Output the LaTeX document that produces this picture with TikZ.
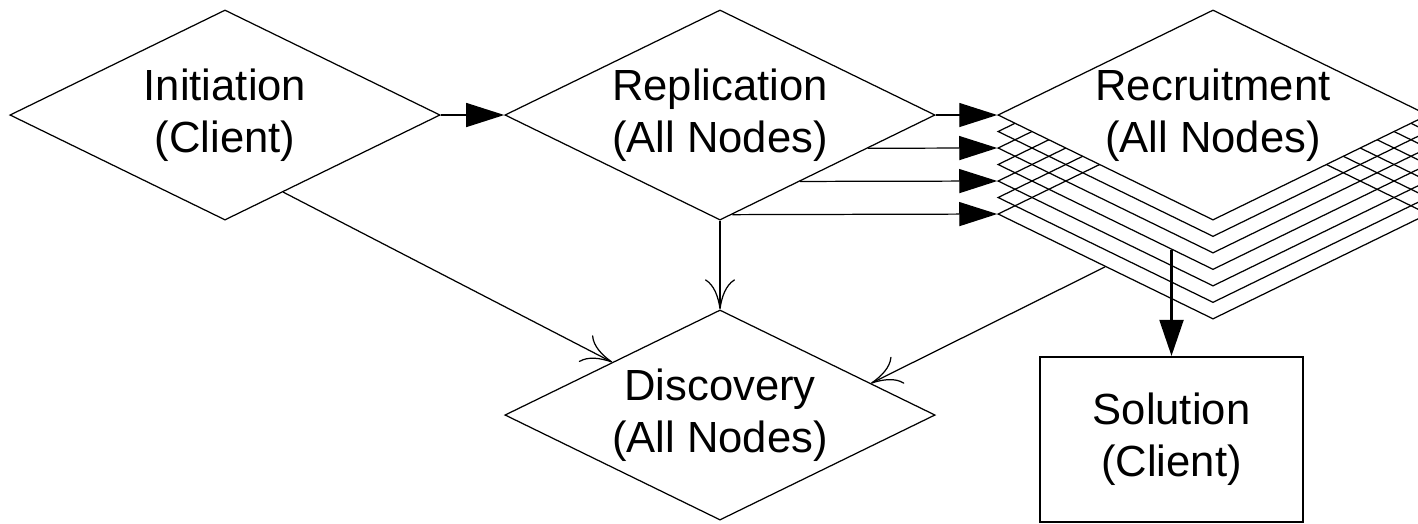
\documentclass[tikz,border=0pt]{standalone}
\usepackage{fontspec}
\setmainfont{Liberation Sans}
\usetikzlibrary{
	arrows.meta,
	calc,
	positioning,
	shapes.geometric,
	}

\begin{document}
\begin{tikzpicture}[x=0.01cm, y=-0.01cm,
		every node/.style={font=\fontsize{12.4}{14.8}\selectfont, align=center},
		stage/.style={draw, diamond, line width=0.35pt, inner sep=0pt, aspect=2.05, minimum width=4.3cm, minimum height=2.1cm},
		link/.style={line width=0.35pt, -{Computer Modern Rightarrow[length=3mm, width=3mm]}},
		push/.style={line width=0.35pt, -{Triangle[length=3.8mm, width=2.4mm]}},
	]
		\clip (0,0) rectangle (1418,523);
		\node[stage, fill=white] (init) at (225,115) {Initiation\\(Client)};
		\node[stage, fill=white] (rep) at (720,115) {Replication\\(All Nodes)};
		\node[stage, fill=white] (disc) at (720,415) {Discovery\\(All Nodes)};
		% recruitment copies behind the front one
		\foreach \k in {6,5,...,1}
			\node[stage] (rec\k) at (1213,{115+16.5*\k}) {};
		\node[stage, fill=white] (rec0) at (1213,115) {Recruitment\\(All Nodes)};
		\node[draw, line width=0.6pt, minimum width=2.63cm, minimum height=1.65cm] (sol) at (1171.5,439.5) {Solution\\(Client)};
		\draw[push] (init.east) -- (rep.west);
		\draw[push] (rep.east) -- (rec0.west);
		\foreach \k in {2,4,6}
			\draw[push] ($(rep.east)!{\k*16.5/105}!(rep.south)$) -- (rec\k.west);
		\draw[link] (rep.south) -- (disc.north);
		\draw[link] ($(init.south)!0.27!(init.east)$) -- ($(disc.west)!0.5!(disc.north)$);
		\draw[link] ($(rec6.west)!0.5!(rec6.south)$) -- ($(disc.north)!0.7!(disc.east)$);
		\coordinate (tap) at ($(rec3.west)!0.81!(rec3.south)$);
		\draw[line width=0.6pt, -{Triangle[length=3.6mm, width=2.4mm]}] (sol.north |- tap) -- (sol.north);
	\end{tikzpicture}
\end{document}
